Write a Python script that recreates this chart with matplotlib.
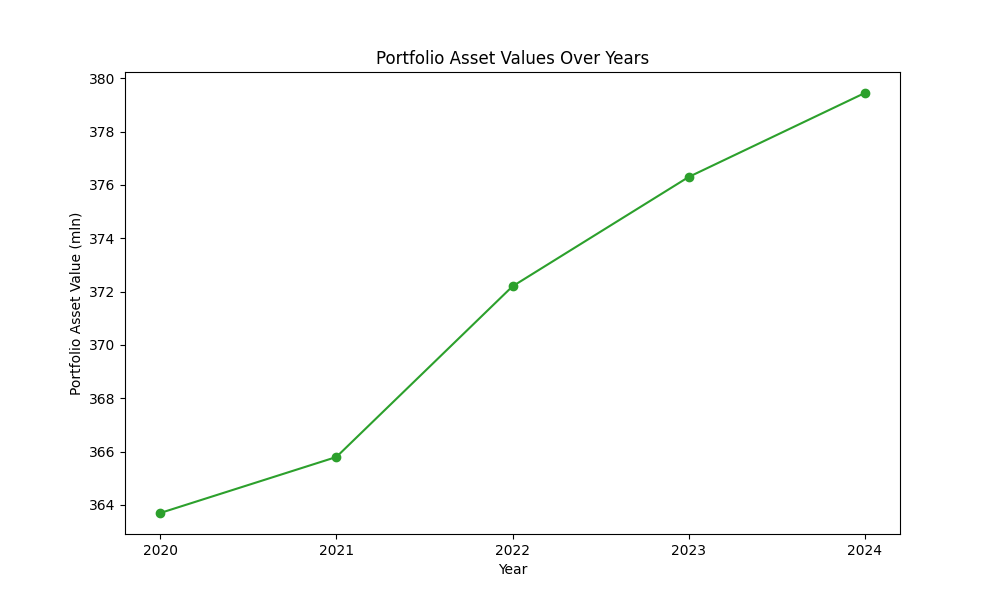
import matplotlib
matplotlib.use('Agg')
from matplotlib import pyplot as plt

years = [2020, 2021, 2022, 2023, 2024]
values = [363.7, 365.8, 372.2, 376.3, 379.45]

fig, ax = plt.subplots(figsize=(10, 6), dpi=100)
ax.plot(years, values, marker='o', color='#2ca02c')
ax.set_title('Portfolio Asset Values Over Years')
ax.set_xlabel('Year')
ax.set_ylabel('Portfolio Asset Value (mln)')
ax.set_xticks(years)
fig.savefig('out.png')
